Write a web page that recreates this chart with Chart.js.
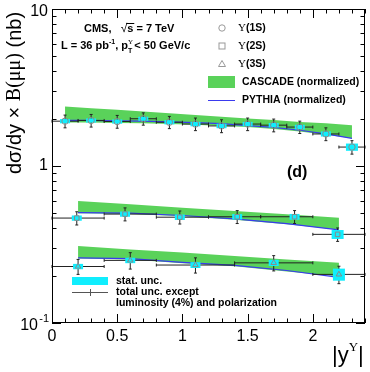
<!DOCTYPE html>
<html>
<head>
<meta charset="utf-8">
<script src="https://cdn.jsdelivr.net/npm/chart.js@4/dist/chart.umd.min.js"></script>
<style>
  html, body { margin: 0; padding: 0; background: #fff; }
  #wrap { width: 370px; height: 372px; }
</style>
</head>
<body>
<div id="wrap"><canvas id="chart"></canvas></div>
<script>
// Upsilon(1S): bin centres, bin edges, values, total and stat errors (nb)
const x1 = [0.1, 0.3, 0.5, 0.7, 0.9, 1.1, 1.3, 1.5, 1.7, 1.9, 2.1, 2.3];
const lo1 = [0.0, 0.2, 0.4, 0.6, 0.8, 1.0, 1.2, 1.4, 1.6, 1.8, 2.0, 2.2];
const hi1 = [0.2, 0.4, 0.6, 0.8, 1.0, 1.2, 1.4, 1.6, 1.8, 2.0, 2.2, 2.4];
const y1 = [1.93, 1.95, 1.92, 2.00, 1.90, 1.85, 1.80, 1.85, 1.82, 1.77, 1.60, 1.32];
const tot1 = [0.18, 0.18, 0.18, 0.18, 0.17, 0.17, 0.17, 0.17, 0.17, 0.16, 0.15, 0.13];
const stat1 = [0.06, 0.06, 0.06, 0.06, 0.06, 0.06, 0.06, 0.06, 0.06, 0.06, 0.06, 0.07];

// Upsilon(2S)
const x2 = [0.19, 0.56, 0.98, 1.42, 1.86, 2.19];
const lo2 = [0.0, 0.4, 0.8, 1.2, 1.6, 2.0];
const hi2 = [0.4, 0.8, 1.2, 1.6, 2.0, 2.4];
const y2 = [0.466, 0.494, 0.472, 0.475, 0.475, 0.367];
const tot2 = [0.045, 0.047, 0.045, 0.045, 0.045, 0.036];
const stat2 = [0.018, 0.019, 0.019, 0.019, 0.02, 0.024];

// Upsilon(3S)
const x3 = [0.2, 0.6, 1.1, 1.7, 2.2];
const lo3 = [0.0, 0.4, 0.8, 1.4, 2.0];
const hi3 = [0.4, 0.8, 1.4, 2.0, 2.4];
const y3 = [0.229, 0.2505, 0.234, 0.2416, 0.204];
const tot3 = [0.025, 0.03, 0.026, 0.027, 0.026];
const stat3 = [0.009, 0.01, 0.01, 0.011, 0.018];

// CASCADE bands and PYTHIA curves
const mcX1 = [0.1, 0.3, 0.5, 0.7, 0.9, 1.1, 1.3, 1.5, 1.7, 1.9, 2.1, 2.3];
const cascTop1 = [2.39, 2.33, 2.28, 2.22, 2.17, 2.11, 2.06, 2.01, 1.96, 1.91, 1.87, 1.82];
const cascBot1 = [1.89, 1.89, 1.88, 1.87, 1.85, 1.83, 1.80, 1.77, 1.72, 1.66, 1.58, 1.50];
const pythia1 = [1.95, 1.95, 1.94, 1.93, 1.91, 1.89, 1.86, 1.81, 1.76, 1.69, 1.60, 1.50];

const mcX23 = [0.2, 0.6, 1.0, 1.4, 1.8, 2.2];
const cascTop2 = [0.598, 0.570, 0.543, 0.516, 0.492, 0.469];
const cascBot2 = [0.500, 0.495, 0.478, 0.455, 0.425, 0.392];
const pythia2 = [0.504, 0.501, 0.484, 0.460, 0.430, 0.392];
const cascTop3 = [0.309, 0.294, 0.281, 0.267, 0.254, 0.242];
const cascBot3 = [0.258, 0.254, 0.240, 0.230, 0.213, 0.198];
const pythia3 = [0.260, 0.257, 0.243, 0.233, 0.216, 0.195];

const xTickLabels = ['0', '0.5', '1', '1.5', '2'];

const GREEN = 'rgb(90,210,90)';
const CYAN = '#10eefe';
const BLUE = '#3a3aee';
const SANS = '"Liberation Sans", Arial, sans-serif';
const SERIF = '"Liberation Serif", "Times New Roman", serif';
const UPS = '\u03a5';

const series = [
  { x: x1, lo: lo1, hi: hi1, y: y1, tot: tot1, stat: stat1 },
  { x: x2, lo: lo2, hi: hi2, y: y2, tot: tot2, stat: stat2 },
  { x: x3, lo: lo3, hi: hi3, y: y3, tot: tot3, stat: stat3 }
];

function xy(xs, ys) {
  return xs.map((x, i) => ({ x: x, y: ys[i] }));
}

function pointsDataset(label, xs, ys, style) {
  return {
    label: label,
    isData: true,
    data: xy(xs, ys),
    showLine: false,
    pointStyle: style,
    pointRadius: 3.2,
    pointBorderColor: '#8a8a8a',
    pointBackgroundColor: 'rgba(0,0,0,0)',
    pointBorderWidth: 1
  };
}

function lineDataset(xs, ys) {
  return {
    data: xy(xs, ys),
    showLine: true,
    borderColor: BLUE,
    borderWidth: 1.2,
    pointRadius: 0,
    fill: false
  };
}

function bandDatasets(xs, top, bot) {
  return [
    { data: xy(xs, top), showLine: true, borderColor: 'rgba(0,0,0,0)', borderWidth: 1,
      pointRadius: 0, backgroundColor: GREEN, fill: '+1' },
    { data: xy(xs, bot), showLine: true, borderColor: 'rgba(0,0,0,0)', borderWidth: 1,
      pointRadius: 0, fill: false }
  ];
}

// datasets with the lowest index are drawn last (on top)
const datasets = [
  pointsDataset(UPS + '(1S)', x1, y1, 'circle'),
  pointsDataset(UPS + '(2S)', x2, y2, 'rect'),
  pointsDataset(UPS + '(3S)', x3, y3, 'triangle'),
  lineDataset(mcX1, pythia1),
  lineDataset(mcX23, pythia2),
  lineDataset(mcX23, pythia3),
  ...bandDatasets(mcX1, cascTop1, cascBot1),
  ...bandDatasets(mcX23, cascTop2, cascBot2),
  ...bandDatasets(mcX23, cascTop3, cascBot3)
];

function text(ctx, str, x, y, font, align) {
  ctx.font = font;
  ctx.textAlign = align || 'left';
  ctx.textBaseline = 'middle';
  ctx.fillStyle = '#000';
  ctx.fillText(str, x, y);
  return ctx.measureText(str).width;
}

// error bars and stat boxes, drawn just before the markers
const errorBars = {
  id: 'errorBars',
  beforeDraw(chart) { chart.$errDone = false; },
  beforeDatasetDraw(chart, args) {
    if (chart.$errDone || !chart.data.datasets[args.index].isData) return;
    chart.$errDone = true;
    const ctx = chart.ctx;
    const xs = chart.scales.x, ys = chart.scales.y;
    ctx.save();
    series.forEach(s => {
      s.x.forEach((xv, i) => {
        const px = xs.getPixelForValue(xv);
        const py = ys.getPixelForValue(s.y[i]);
        const pl = xs.getPixelForValue(s.lo[i]);
        const pr = xs.getPixelForValue(s.hi[i]);
        const pt = ys.getPixelForValue(s.y[i] + s.tot[i]);
        const pb = ys.getPixelForValue(s.y[i] - s.tot[i]);
        ctx.strokeStyle = '#222';
        ctx.lineWidth = 1;
        ctx.beginPath();
        ctx.moveTo(pl, py); ctx.lineTo(pr, py);
        ctx.moveTo(pl, py - 1.5); ctx.lineTo(pl, py + 1.5);
        ctx.moveTo(pr, py - 1.5); ctx.lineTo(pr, py + 1.5);
        ctx.moveTo(px, pt); ctx.lineTo(px, pb);
        ctx.moveTo(px - 1.5, pt); ctx.lineTo(px + 1.5, pt);
        ctx.moveTo(px - 1.5, pb); ctx.lineTo(px + 1.5, pb);
        ctx.stroke();
        const st = ys.getPixelForValue(s.y[i] + s.stat[i]);
        const sb = ys.getPixelForValue(s.y[i] - s.stat[i]);
        const hw = i === s.x.length - 1 ? 6 : 5;
        ctx.fillStyle = CYAN;
        ctx.fillRect(px - hw, st, 2 * hw, sb - st);
      });
    });
    ctx.restore();
  }
};

// frame, ticks, labels and the text boxes
const decorations = {
  id: 'decorations',
  afterDraw(chart) {
    const ctx = chart.ctx;
    const xs = chart.scales.x, ys = chart.scales.y;
    const a = chart.chartArea;
    ctx.save();
    ctx.strokeStyle = '#000';
    ctx.lineWidth = 1;
    ctx.strokeRect(a.left + 0.5, a.top + 0.5, a.right - a.left - 1, a.bottom - a.top - 1);

    ctx.beginPath();
    for (let k = 0; k <= 24; k++) {
      const v = k / 10;
      const px = Math.round(xs.getPixelForValue(v)) + 0.5;
      const len = k % 5 === 0 ? 9 : 4.5;
      ctx.moveTo(px, a.bottom); ctx.lineTo(px, a.bottom - len);
      ctx.moveTo(px, a.top); ctx.lineTo(px, a.top + len);
    }
    [0.1, 1].forEach(d => {
      for (let m = 1; m <= 10; m++) {
        const py = Math.round(ys.getPixelForValue(d * m)) + 0.5;
        const len = (m === 1 || m === 10) ? 9 : 4.5;
        ctx.moveTo(a.left, py); ctx.lineTo(a.left + len, py);
        ctx.moveTo(a.right, py); ctx.lineTo(a.right - len, py);
      }
    });
    ctx.stroke();

    // tick labels
    xTickLabels.forEach(l => {
      text(ctx, l, xs.getPixelForValue(parseFloat(l)), a.bottom + 14, '16px ' + SANS, 'center');
    });
    text(ctx, '10', a.left - 4, ys.getPixelForValue(10) + 3, '16px ' + SANS, 'right');
    text(ctx, '1', a.left - 4, ys.getPixelForValue(1), '16px ' + SANS, 'right');
    const py01 = ys.getPixelForValue(0.1);
    text(ctx, '-1', a.left - 3, py01 - 4, '11px ' + SANS, 'right');
    text(ctx, '10', a.left - 14, py01 + 3, '16px ' + SANS, 'right');

    // x title
    let tx = 332;
    tx += text(ctx, '|y', tx, 356, '22px ' + SANS);
    tx += text(ctx, UPS, tx, 348, '13px ' + SERIF);
    text(ctx, '|', tx, 356, '22px ' + SANS);

    // y title
    ctx.save();
    ctx.translate(15, 93);
    ctx.rotate(-Math.PI / 2);
    const parts = [['d\u03c3/dy \u00d7 ', '20px ' + SANS], ['B(\u03bc\u03bc)', '20px ' + SERIF], [' (nb)', '20px ' + SANS]];
    let w = 0;
    parts.forEach(p => { ctx.font = p[1]; w += ctx.measureText(p[0]).width; });
    let ox = -w / 2;
    parts.forEach(p => { ox += text(ctx, p[0], ox, 0, p[1]); });
    ctx.restore();

    // CMS label
    const B11 = 'bold 11px ' + SANS;
    let cx = 84;
    cx += text(ctx, 'CMS,   ', cx, 29, B11);
    cx += text(ctx, '\u221a', cx, 29, '12px ' + SANS);
    ctx.beginPath(); ctx.moveTo(cx - 1, 23.5); ctx.lineTo(cx + 7, 23.5); ctx.stroke();
    text(ctx, 's = 7 TeV', cx, 29, B11);
    let lx = 61;
    lx += text(ctx, 'L = 36 pb', lx, 46, B11);
    lx += text(ctx, '-1', lx, 42, 'bold 7px ' + SANS);
    lx += text(ctx, ', p', lx, 46, B11);
    text(ctx, UPS, lx, 42, '7px ' + SERIF);
    lx += text(ctx, 'T', lx, 51, 'bold 7px ' + SANS) + 2;
    text(ctx, '< 50 GeV/c', lx, 46, B11);

    // right legend
    const B10 = 'bold 10.5px ' + SANS;
    ctx.strokeStyle = '#999';
    ctx.beginPath(); ctx.arc(222, 28, 3.2, 0, Math.PI * 2); ctx.stroke();
    ctx.strokeRect(219, 43, 6, 6);
    ctx.beginPath(); ctx.moveTo(222, 60.5); ctx.lineTo(225.5, 66.5); ctx.lineTo(218.5, 66.5); ctx.closePath(); ctx.stroke();
    [['1S', 28], ['2S', 46], ['3S', 64]].forEach(e => {
      const ww = text(ctx, UPS, 238, e[1], '11px ' + SERIF);
      text(ctx, '(' + e[0] + ')', 238 + ww, e[1], B10);
    });
    ctx.fillStyle = GREEN;
    ctx.fillRect(208, 76, 27, 12);
    text(ctx, 'CASCADE (normalized)', 242, 82, B10);
    ctx.strokeStyle = BLUE;
    ctx.beginPath(); ctx.moveTo(208, 100.5); ctx.lineTo(235, 100.5); ctx.stroke();
    text(ctx, 'PYTHIA (normalized)', 242, 100, B10);

    text(ctx, '(d)', 287, 173, 'bold 16px ' + SANS);

    // bottom legend
    ctx.fillStyle = CYAN;
    ctx.fillRect(72, 277, 36, 8);
    text(ctx, 'stat. unc.', 116, 281, B10);
    ctx.strokeStyle = '#555';
    ctx.beginPath();
    ctx.moveTo(72, 292.5); ctx.lineTo(108, 292.5);
    ctx.moveTo(90.5, 289); ctx.lineTo(90.5, 296);
    ctx.stroke();
    text(ctx, 'total unc. except', 116, 292, B10);
    text(ctx, 'luminosity (4%) and polarization', 116, 303, B10);
    ctx.restore();
  }
};

new Chart(document.getElementById('chart'), {
  type: 'scatter',
  data: { datasets: datasets },
  options: {
    responsive: true,
    maintainAspectRatio: false,
    animation: false,
    layout: { padding: { left: 52, right: 5, top: 9, bottom: 49 } },
    scales: {
      x: { type: 'linear', min: 0, max: 2.4, display: false },
      y: { type: 'logarithmic', min: 0.1, max: 10, display: false }
    },
    plugins: {
      legend: { display: false },
      tooltip: { enabled: false }
    }
  },
  plugins: [errorBars, decorations]
});
</script>
</body>
</html>
